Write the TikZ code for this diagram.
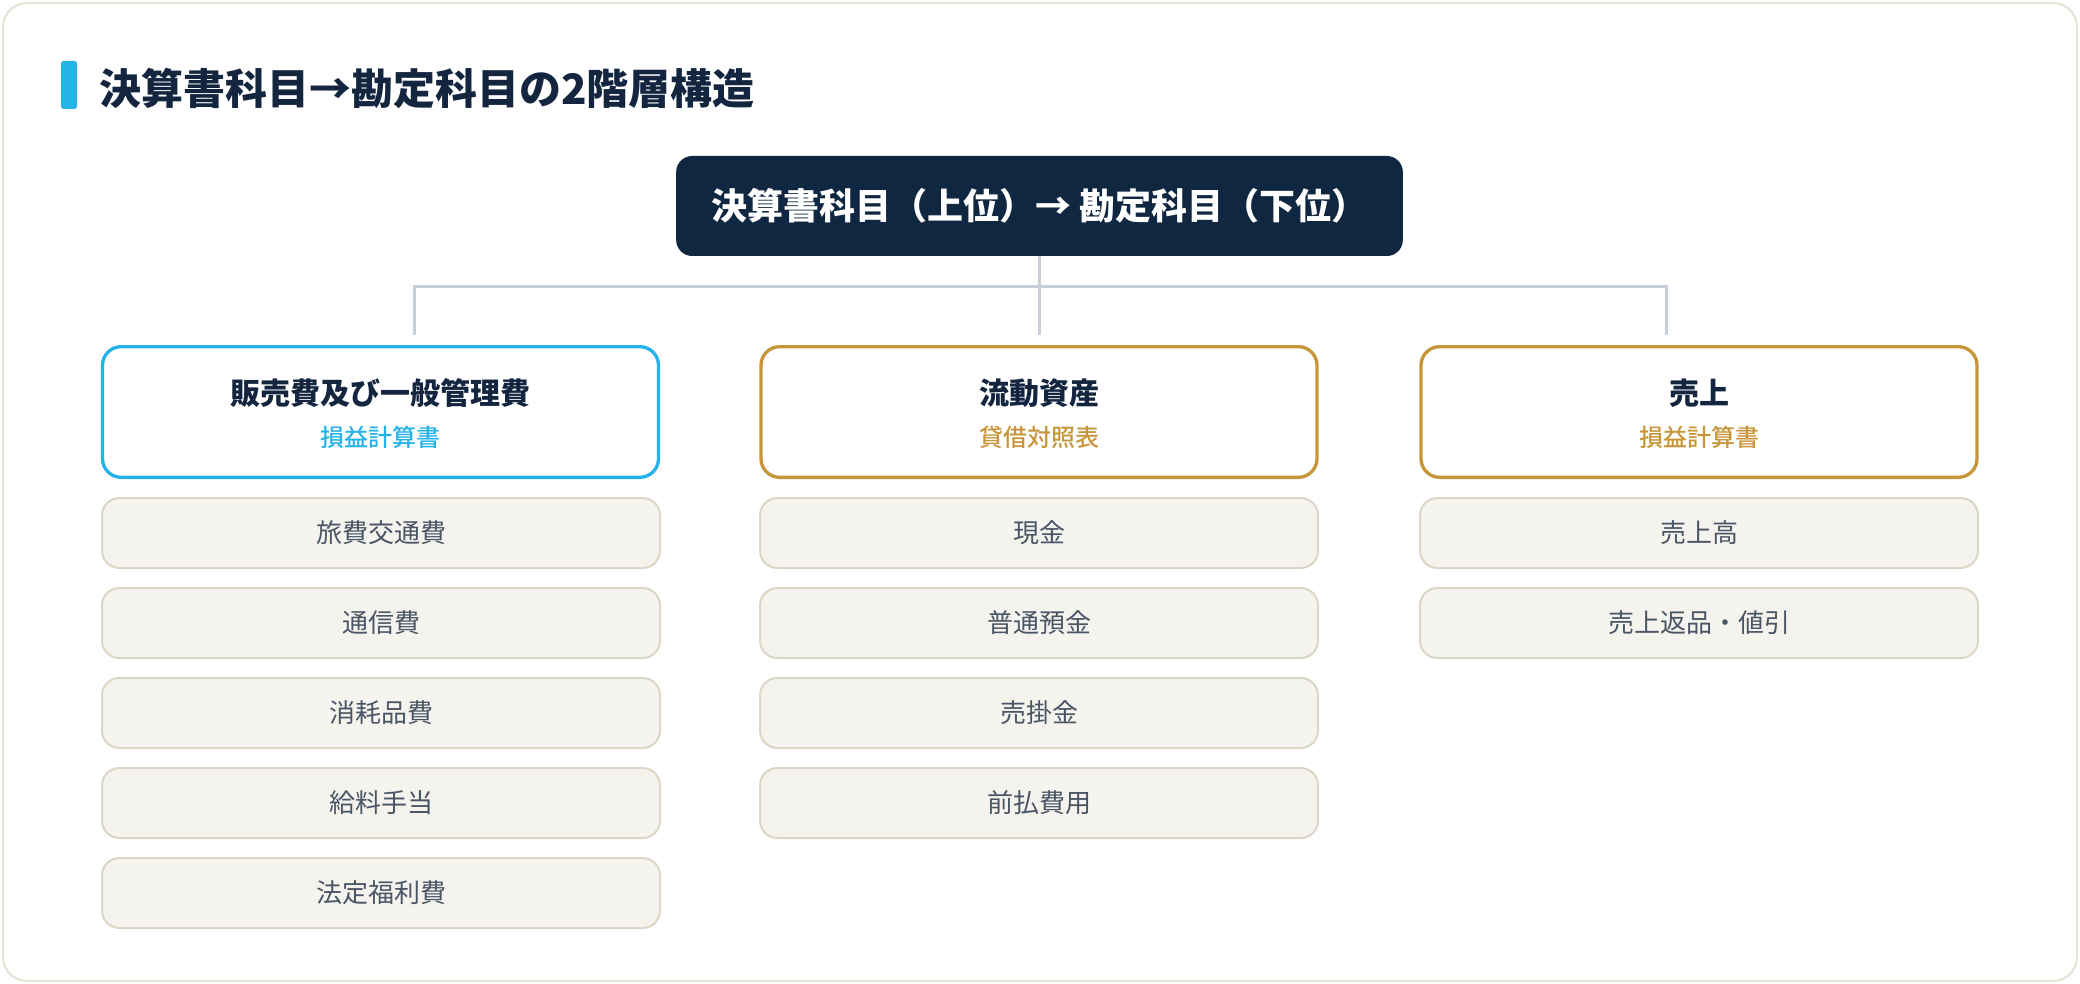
\documentclass[tikz,border=0pt]{standalone}
\usepackage{fontspec}
\setmainfont{Noto Sans CJK JP}
\newfontfamily\subfont{Noto Sans CJK JP Medium}
\usetikzlibrary{positioning}

\definecolor{navy}{HTML}{0F2740}
\definecolor{headtext}{HTML}{14263F}
\definecolor{sky}{HTML}{25B3E7}
\definecolor{gold}{HTML}{C8963A}
\definecolor{itemfill}{HTML}{F5F3EE}
\definecolor{itemline}{HTML}{DCD6C6}
\definecolor{itemtext}{HTML}{4A5565}
\definecolor{wire}{HTML}{C9CFDA}
\definecolor{cardline}{HTML}{E6E2D5}

\tikzset{
  top/.style={fill=navy, rounded corners=12pt, inner sep=0pt, minimum width=545pt, minimum height=75pt,
    text=white, font=\fontsize{27}{32}\selectfont\bfseries},
  cat/.style={draw=#1, line width=2.5pt, fill=white, rounded corners=14pt, minimum width=417pt, minimum height=98pt},
  cathead/.style={inner sep=0pt, text=headtext, font=\fontsize{22.5}{27}\selectfont\bfseries},
  catsub/.style={inner sep=0pt, text=#1, font=\fontsize{18}{22}\subfont},
  item/.style={draw=itemline, line width=1.5pt, fill=itemfill, rounded corners=13pt, inner sep=0pt,
    minimum width=418.5pt, minimum height=52.5pt, text=itemtext, font=\fontsize{19.5}{24}\selectfont},
  wire/.style={draw=wire, line width=2.25pt}
}

\begin{document}
\begin{tikzpicture}[x=0.75pt,y=-0.75pt]

   \useasboundingbox (0,0) rectangle (2080,984);
   \draw[cardline, line width=1.5pt, fill=white, rounded corners=18pt] (3,3) rectangle (2077,981);

   \fill[sky, rounded corners=2pt] (61,61) rectangle (77,109);
   \node[anchor=west, inner sep=0pt, text=headtext, font=\fontsize{31.5}{36}\selectfont\bfseries] (title) at (99,88)
      {決算書科目→勘定科目の2階層構造};

   \node[top] (T) at (1039.5,206) {決算書科目（上位）→ 勘定科目（下位）};

   \foreach \x/\n in {414/1,1039.5/2,1666/3}
   {
      \path (\x,286) coordinate (J\n);
      \path (\x,335) coordinate (E\n);
   }
   \draw[wire] (E1) -- (J1) -- (J3) -- (E3);
   \draw[wire] (T.south) -- (E2);

   \foreach \x/\c/\t/\s [count=\i] in {380.5/sky/販売費及び一般管理費/損益計算書,
                                      1039/gold/流動資産/貸借対照表,
                                      1699/gold/売上/損益計算書}
   {
      \node[cat=\c] (C\i) at (\x,412) {};
      \node[cathead] (Ch\i) at (\x,393) {\t};
      \node[catsub=\c] (Cs\i) at (\x,437) {\s};
   }

   \foreach \t [count=\i] in {旅費交通費,通信費,消耗品費,給料手当,法定福利費}
   {
      \node[item] (A\i) at (381,443+90*\i) {\t};
   }

   \foreach \t [count=\i] in {現金,普通預金,売掛金,前払費用}
   {
      \node[item] (B\i) at (1039,443+90*\i) {\t};
   }

   \foreach \t [count=\i] in {売上高,売上返品・値引}
   {
      \node[item] (D\i) at (1699,443+90*\i) {\t};
   }
\end{tikzpicture}
\end{document}
